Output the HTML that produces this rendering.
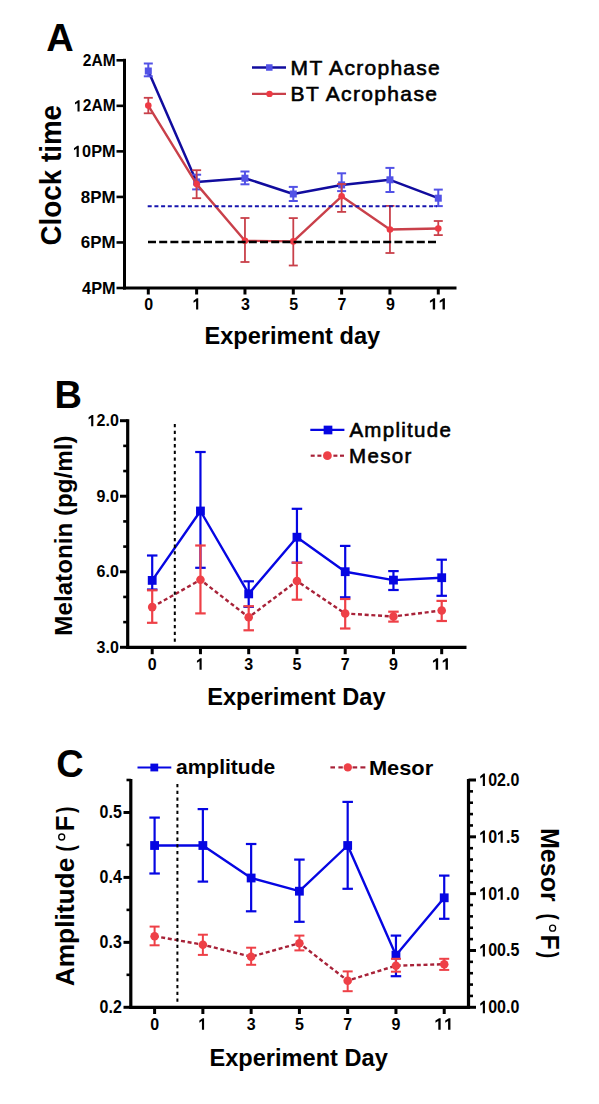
<!DOCTYPE html>
<html><head><meta charset="utf-8"><style>
html,body{margin:0;padding:0;background:#fff;}
svg{display:block;}
text{font-family:"Liberation Sans", sans-serif;fill:#000;}
</style></head><body>
<svg width="599" height="1104" viewBox="0 0 599 1104">
<rect width="599" height="1104" fill="#fff"/>
<text x="46.2" y="51.4" font-size="38" font-weight="bold" text-anchor="start">A</text>
<line x1="124.5" y1="58.8" x2="124.5" y2="289.5" stroke="#000" stroke-width="3" stroke-linecap="butt"/>
<line x1="116.5" y1="60.3" x2="124.5" y2="60.3" stroke="#000" stroke-width="2.6" stroke-linecap="butt"/>
<text transform="translate(115.60,65.90) scale(0.955,1.0)" font-size="16.3" font-weight="bold" text-anchor="end">2AM</text>
<line x1="116.5" y1="105.84" x2="124.5" y2="105.84" stroke="#000" stroke-width="2.6" stroke-linecap="butt"/>
<g transform="translate(115.60,111.44) scale(0.955,1.0)">
<text font-size="16.3" font-weight="bold" text-anchor="end" xml:space="preserve"> 2AM</text>
<path transform="translate(-43.480,0) scale(0.00796,-0.00796)" d="M725,0 L450,0 L450,1050 L120,860 L120,1110 L540,1409 L725,1409 Z"/>
</g>
<line x1="116.5" y1="151.38" x2="124.5" y2="151.38" stroke="#000" stroke-width="2.6" stroke-linecap="butt"/>
<g transform="translate(115.60,156.98) scale(1.0,1.0)">
<text font-size="16.3" font-weight="bold" text-anchor="end" xml:space="preserve"> 0PM</text>
<path transform="translate(-42.581,0) scale(0.00796,-0.00796)" d="M725,0 L450,0 L450,1050 L120,860 L120,1110 L540,1409 L725,1409 Z"/>
</g>
<line x1="116.5" y1="196.92000000000002" x2="124.5" y2="196.92000000000002" stroke="#000" stroke-width="2.6" stroke-linecap="butt"/>
<text transform="translate(115.60,202.52) scale(1.04,1.0)" font-size="16.3" font-weight="bold" text-anchor="end">8PM</text>
<line x1="116.5" y1="242.45999999999998" x2="124.5" y2="242.45999999999998" stroke="#000" stroke-width="2.6" stroke-linecap="butt"/>
<text transform="translate(115.60,248.06) scale(1.04,1.0)" font-size="16.3" font-weight="bold" text-anchor="end">6PM</text>
<line x1="116.5" y1="288.0" x2="124.5" y2="288.0" stroke="#000" stroke-width="2.6" stroke-linecap="butt"/>
<text transform="translate(115.60,293.60) scale(1.0,1.0)" font-size="16.3" font-weight="bold" text-anchor="end">4PM</text>
<line x1="123.0" y1="288" x2="456.5" y2="288" stroke="#000" stroke-width="3.2" stroke-linecap="butt"/>
<line x1="148.3" y1="288" x2="148.3" y2="294.5" stroke="#000" stroke-width="3" stroke-linecap="butt"/>
<text transform="translate(148.70,309.60) scale(1.0,1.03)" font-size="16" font-weight="bold" text-anchor="middle">0</text>
<line x1="196.63" y1="288" x2="196.63" y2="294.5" stroke="#000" stroke-width="3" stroke-linecap="butt"/>
<g transform="translate(197.03,309.60) scale(1.0,1.03)">
<text font-size="16" font-weight="bold" text-anchor="middle" xml:space="preserve"> </text>
<path transform="translate(-4.449,0) scale(0.00781,-0.00781)" d="M725,0 L450,0 L450,1050 L120,860 L120,1110 L540,1409 L725,1409 Z"/>
</g>
<line x1="244.96" y1="288" x2="244.96" y2="294.5" stroke="#000" stroke-width="3" stroke-linecap="butt"/>
<text transform="translate(245.36,309.60) scale(1.0,1.03)" font-size="16" font-weight="bold" text-anchor="middle">3</text>
<line x1="293.29" y1="288" x2="293.29" y2="294.5" stroke="#000" stroke-width="3" stroke-linecap="butt"/>
<text transform="translate(293.69,309.60) scale(1.0,1.03)" font-size="16" font-weight="bold" text-anchor="middle">5</text>
<line x1="341.62" y1="288" x2="341.62" y2="294.5" stroke="#000" stroke-width="3" stroke-linecap="butt"/>
<text transform="translate(342.02,309.60) scale(1.0,1.03)" font-size="16" font-weight="bold" text-anchor="middle">7</text>
<line x1="389.95" y1="288" x2="389.95" y2="294.5" stroke="#000" stroke-width="3" stroke-linecap="butt"/>
<text transform="translate(390.35,309.60) scale(1.0,1.03)" font-size="16" font-weight="bold" text-anchor="middle">9</text>
<line x1="438.28000000000003" y1="288" x2="438.28000000000003" y2="294.5" stroke="#000" stroke-width="3" stroke-linecap="butt"/>
<g transform="translate(438.68,309.60) scale(1.1,1.03)">
<text font-size="16" font-weight="bold" text-anchor="middle" xml:space="preserve">  </text>
<path transform="translate(-8.898,0) scale(0.00781,-0.00781)" d="M725,0 L450,0 L450,1050 L120,860 L120,1110 L540,1409 L725,1409 Z"/>
<path transform="translate(0.000,0) scale(0.00781,-0.00781)" d="M725,0 L450,0 L450,1050 L120,860 L120,1110 L540,1409 L725,1409 Z"/>
</g>
<text x="292.3" y="344.4" font-size="23.6" font-weight="bold" text-anchor="middle">Experiment day</text>
<text transform="translate(60.5,175.2) rotate(-90)" font-size="29" font-weight="bold" text-anchor="middle" textLength="140.5" lengthAdjust="spacingAndGlyphs">Clock time</text>
<polyline points="148.3,71.0 196.63,181.9 244.96,178.2 293.29,194 341.62,184.9 389.95,179.8 438.28000000000003,198.2" fill="none" stroke="#110c9e" stroke-width="2.5" stroke-linejoin="round"/>
<line x1="148.3" y1="63.5" x2="148.3" y2="76.3" stroke="#5252e6" stroke-width="2" stroke-linecap="butt"/>
<line x1="143.8" y1="63.5" x2="152.8" y2="63.5" stroke="#5252e6" stroke-width="2" stroke-linecap="butt"/>
<line x1="143.8" y1="76.3" x2="152.8" y2="76.3" stroke="#5252e6" stroke-width="2" stroke-linecap="butt"/>
<rect x="144.8" y="67.5" width="7" height="7" fill="#5252e6"/>
<line x1="196.63" y1="174.7" x2="196.63" y2="189.4" stroke="#5252e6" stroke-width="2" stroke-linecap="butt"/>
<line x1="192.13" y1="174.7" x2="201.13" y2="174.7" stroke="#5252e6" stroke-width="2" stroke-linecap="butt"/>
<line x1="192.13" y1="189.4" x2="201.13" y2="189.4" stroke="#5252e6" stroke-width="2" stroke-linecap="butt"/>
<rect x="193.13" y="178.4" width="7" height="7" fill="#5252e6"/>
<line x1="244.96" y1="171.5" x2="244.96" y2="184.3" stroke="#5252e6" stroke-width="2" stroke-linecap="butt"/>
<line x1="240.46" y1="171.5" x2="249.46" y2="171.5" stroke="#5252e6" stroke-width="2" stroke-linecap="butt"/>
<line x1="240.46" y1="184.3" x2="249.46" y2="184.3" stroke="#5252e6" stroke-width="2" stroke-linecap="butt"/>
<rect x="241.46" y="174.7" width="7" height="7" fill="#5252e6"/>
<line x1="293.29" y1="186.9" x2="293.29" y2="201" stroke="#5252e6" stroke-width="2" stroke-linecap="butt"/>
<line x1="288.79" y1="186.9" x2="297.79" y2="186.9" stroke="#5252e6" stroke-width="2" stroke-linecap="butt"/>
<line x1="288.79" y1="201" x2="297.79" y2="201" stroke="#5252e6" stroke-width="2" stroke-linecap="butt"/>
<rect x="289.79" y="190.5" width="7" height="7" fill="#5252e6"/>
<line x1="341.62" y1="173.3" x2="341.62" y2="191.1" stroke="#5252e6" stroke-width="2" stroke-linecap="butt"/>
<line x1="337.12" y1="173.3" x2="346.12" y2="173.3" stroke="#5252e6" stroke-width="2" stroke-linecap="butt"/>
<line x1="337.12" y1="191.1" x2="346.12" y2="191.1" stroke="#5252e6" stroke-width="2" stroke-linecap="butt"/>
<rect x="338.12" y="181.4" width="7" height="7" fill="#5252e6"/>
<line x1="389.95" y1="167.9" x2="389.95" y2="192" stroke="#5252e6" stroke-width="2" stroke-linecap="butt"/>
<line x1="385.45" y1="167.9" x2="394.45" y2="167.9" stroke="#5252e6" stroke-width="2" stroke-linecap="butt"/>
<line x1="385.45" y1="192" x2="394.45" y2="192" stroke="#5252e6" stroke-width="2" stroke-linecap="butt"/>
<rect x="386.45" y="176.3" width="7" height="7" fill="#5252e6"/>
<line x1="438.28000000000003" y1="189.6" x2="438.28000000000003" y2="206.1" stroke="#5252e6" stroke-width="2" stroke-linecap="butt"/>
<line x1="433.78000000000003" y1="189.6" x2="442.78000000000003" y2="189.6" stroke="#5252e6" stroke-width="2" stroke-linecap="butt"/>
<line x1="433.78000000000003" y1="206.1" x2="442.78000000000003" y2="206.1" stroke="#5252e6" stroke-width="2" stroke-linecap="butt"/>
<rect x="434.78000000000003" y="194.7" width="7" height="7" fill="#5252e6"/>
<polyline points="148.3,105.6 196.63,184.1 244.96,240.7 293.29,241.4 341.62,196.3 389.95,229.5 438.28000000000003,228.5" fill="none" stroke="#c9404a" stroke-width="2.4" stroke-linejoin="round"/>
<line x1="148.3" y1="97.8" x2="148.3" y2="113.3" stroke="#c9404a" stroke-width="1.8" stroke-linecap="butt"/>
<line x1="143.8" y1="97.8" x2="152.8" y2="97.8" stroke="#c9404a" stroke-width="1.8" stroke-linecap="butt"/>
<line x1="143.8" y1="113.3" x2="152.8" y2="113.3" stroke="#c9404a" stroke-width="1.8" stroke-linecap="butt"/>
<circle cx="148.3" cy="105.6" r="3.3" fill="#ee3a44"/>
<line x1="196.63" y1="170.2" x2="196.63" y2="198.2" stroke="#c9404a" stroke-width="1.8" stroke-linecap="butt"/>
<line x1="192.13" y1="170.2" x2="201.13" y2="170.2" stroke="#c9404a" stroke-width="1.8" stroke-linecap="butt"/>
<line x1="192.13" y1="198.2" x2="201.13" y2="198.2" stroke="#c9404a" stroke-width="1.8" stroke-linecap="butt"/>
<circle cx="196.63" cy="184.1" r="3.3" fill="#ee3a44"/>
<line x1="244.96" y1="218" x2="244.96" y2="262" stroke="#c9404a" stroke-width="1.8" stroke-linecap="butt"/>
<line x1="240.46" y1="218" x2="249.46" y2="218" stroke="#c9404a" stroke-width="1.8" stroke-linecap="butt"/>
<line x1="240.46" y1="262" x2="249.46" y2="262" stroke="#c9404a" stroke-width="1.8" stroke-linecap="butt"/>
<circle cx="244.96" cy="240.7" r="3.3" fill="#ee3a44"/>
<line x1="293.29" y1="218.1" x2="293.29" y2="265.5" stroke="#c9404a" stroke-width="1.8" stroke-linecap="butt"/>
<line x1="288.79" y1="218.1" x2="297.79" y2="218.1" stroke="#c9404a" stroke-width="1.8" stroke-linecap="butt"/>
<line x1="288.79" y1="265.5" x2="297.79" y2="265.5" stroke="#c9404a" stroke-width="1.8" stroke-linecap="butt"/>
<circle cx="293.29" cy="241.4" r="3.3" fill="#ee3a44"/>
<line x1="341.62" y1="184" x2="341.62" y2="211.9" stroke="#c9404a" stroke-width="1.8" stroke-linecap="butt"/>
<line x1="337.12" y1="184" x2="346.12" y2="184" stroke="#c9404a" stroke-width="1.8" stroke-linecap="butt"/>
<line x1="337.12" y1="211.9" x2="346.12" y2="211.9" stroke="#c9404a" stroke-width="1.8" stroke-linecap="butt"/>
<circle cx="341.62" cy="196.3" r="3.3" fill="#ee3a44"/>
<line x1="389.95" y1="205.9" x2="389.95" y2="253" stroke="#c9404a" stroke-width="1.8" stroke-linecap="butt"/>
<line x1="385.45" y1="205.9" x2="394.45" y2="205.9" stroke="#c9404a" stroke-width="1.8" stroke-linecap="butt"/>
<line x1="385.45" y1="253" x2="394.45" y2="253" stroke="#c9404a" stroke-width="1.8" stroke-linecap="butt"/>
<circle cx="389.95" cy="229.5" r="3.3" fill="#ee3a44"/>
<line x1="438.28000000000003" y1="221" x2="438.28000000000003" y2="235.1" stroke="#c9404a" stroke-width="1.8" stroke-linecap="butt"/>
<line x1="433.78000000000003" y1="221" x2="442.78000000000003" y2="221" stroke="#c9404a" stroke-width="1.8" stroke-linecap="butt"/>
<line x1="433.78000000000003" y1="235.1" x2="442.78000000000003" y2="235.1" stroke="#c9404a" stroke-width="1.8" stroke-linecap="butt"/>
<circle cx="438.28000000000003" cy="228.5" r="3.3" fill="#ee3a44"/>
<line x1="147.7" y1="206.3" x2="437" y2="206.3" stroke="#1614ae" stroke-width="2" stroke-linecap="butt" stroke-dasharray="4 2.7"/>
<line x1="148" y1="242" x2="437.6" y2="242" stroke="#000" stroke-width="2.5" stroke-linecap="butt" stroke-dasharray="8 3.2"/>
<line x1="252" y1="67.5" x2="286" y2="67.5" stroke="#110c9e" stroke-width="2.3" stroke-linecap="butt"/>
<rect x="266.05" y="64.25" width="6.5" height="6.5" fill="#5252e6"/>
<text x="290.6" y="75.2" font-size="21" font-weight="normal" stroke="#000" stroke-width="0.6" textLength="149.2" lengthAdjust="spacing">MT Acrophase</text>
<line x1="252" y1="93.9" x2="286" y2="93.9" stroke="#c9404a" stroke-width="2.3" stroke-linecap="butt"/>
<circle cx="269.5" cy="93.9" r="3.2" fill="#ee3a44"/>
<text x="290.6" y="100.8" font-size="21" font-weight="normal" stroke="#000" stroke-width="0.6" textLength="146.3" lengthAdjust="spacing">BT Acrophase</text>
<text x="54.6" y="408.3" font-size="38" font-weight="bold" text-anchor="start">B</text>
<line x1="127.7" y1="419.2" x2="127.7" y2="648.8" stroke="#000" stroke-width="3.2" stroke-linecap="butt"/>
<line x1="120" y1="647.3" x2="127.7" y2="647.3" stroke="#000" stroke-width="3" stroke-linecap="butt"/>
<text transform="translate(118.80,652.90) scale(1.0,1.03)" font-size="16" font-weight="bold" text-anchor="end">3.0</text>
<line x1="123.2" y1="622.1222222222221" x2="127.7" y2="622.1222222222221" stroke="#000" stroke-width="2.6" stroke-linecap="butt"/>
<line x1="123.2" y1="596.9444444444445" x2="127.7" y2="596.9444444444445" stroke="#000" stroke-width="2.6" stroke-linecap="butt"/>
<line x1="120" y1="571.7666666666667" x2="127.7" y2="571.7666666666667" stroke="#000" stroke-width="3" stroke-linecap="butt"/>
<text transform="translate(118.80,577.37) scale(1.0,1.03)" font-size="16" font-weight="bold" text-anchor="end">6.0</text>
<line x1="123.2" y1="546.5888888888888" x2="127.7" y2="546.5888888888888" stroke="#000" stroke-width="2.6" stroke-linecap="butt"/>
<line x1="123.2" y1="521.411111111111" x2="127.7" y2="521.411111111111" stroke="#000" stroke-width="2.6" stroke-linecap="butt"/>
<line x1="120" y1="496.23333333333335" x2="127.7" y2="496.23333333333335" stroke="#000" stroke-width="3" stroke-linecap="butt"/>
<text transform="translate(118.80,501.83) scale(1.0,1.03)" font-size="16" font-weight="bold" text-anchor="end">9.0</text>
<line x1="123.2" y1="471.05555555555554" x2="127.7" y2="471.05555555555554" stroke="#000" stroke-width="2.6" stroke-linecap="butt"/>
<line x1="123.2" y1="445.87777777777774" x2="127.7" y2="445.87777777777774" stroke="#000" stroke-width="2.6" stroke-linecap="butt"/>
<line x1="120" y1="420.7" x2="127.7" y2="420.7" stroke="#000" stroke-width="3" stroke-linecap="butt"/>
<g transform="translate(118.80,426.30) scale(1.0,1.03)">
<text font-size="16" font-weight="bold" text-anchor="end" xml:space="preserve"> 2.0</text>
<path transform="translate(-31.141,0) scale(0.00781,-0.00781)" d="M725,0 L450,0 L450,1050 L120,860 L120,1110 L540,1409 L725,1409 Z"/>
</g>
<line x1="126.2" y1="647.3" x2="466.5" y2="647.3" stroke="#000" stroke-width="3.2" stroke-linecap="butt"/>
<line x1="152.2" y1="647.3" x2="152.2" y2="654.2" stroke="#000" stroke-width="3" stroke-linecap="butt"/>
<text transform="translate(152.20,669.70) scale(1.0,1.03)" font-size="16" font-weight="bold" text-anchor="middle">0</text>
<line x1="200.45" y1="647.3" x2="200.45" y2="654.2" stroke="#000" stroke-width="3" stroke-linecap="butt"/>
<g transform="translate(200.45,669.70) scale(1.0,1.03)">
<text font-size="16" font-weight="bold" text-anchor="middle" xml:space="preserve"> </text>
<path transform="translate(-4.449,0) scale(0.00781,-0.00781)" d="M725,0 L450,0 L450,1050 L120,860 L120,1110 L540,1409 L725,1409 Z"/>
</g>
<line x1="248.7" y1="647.3" x2="248.7" y2="654.2" stroke="#000" stroke-width="3" stroke-linecap="butt"/>
<text transform="translate(248.70,669.70) scale(1.0,1.03)" font-size="16" font-weight="bold" text-anchor="middle">3</text>
<line x1="296.95" y1="647.3" x2="296.95" y2="654.2" stroke="#000" stroke-width="3" stroke-linecap="butt"/>
<text transform="translate(296.95,669.70) scale(1.0,1.03)" font-size="16" font-weight="bold" text-anchor="middle">5</text>
<line x1="345.2" y1="647.3" x2="345.2" y2="654.2" stroke="#000" stroke-width="3" stroke-linecap="butt"/>
<text transform="translate(345.20,669.70) scale(1.0,1.03)" font-size="16" font-weight="bold" text-anchor="middle">7</text>
<line x1="393.45" y1="647.3" x2="393.45" y2="654.2" stroke="#000" stroke-width="3" stroke-linecap="butt"/>
<text transform="translate(393.45,669.70) scale(1.0,1.03)" font-size="16" font-weight="bold" text-anchor="middle">9</text>
<line x1="441.7" y1="647.3" x2="441.7" y2="654.2" stroke="#000" stroke-width="3" stroke-linecap="butt"/>
<g transform="translate(441.70,669.70) scale(1.1,1.03)">
<text font-size="16" font-weight="bold" text-anchor="middle" xml:space="preserve">  </text>
<path transform="translate(-8.898,0) scale(0.00781,-0.00781)" d="M725,0 L450,0 L450,1050 L120,860 L120,1110 L540,1409 L725,1409 Z"/>
<path transform="translate(0.000,0) scale(0.00781,-0.00781)" d="M725,0 L450,0 L450,1050 L120,860 L120,1110 L540,1409 L725,1409 Z"/>
</g>
<text x="296.4" y="705.1" font-size="23.6" font-weight="bold" text-anchor="middle">Experiment Day</text>
<text transform="translate(71.5,535.6) rotate(-90)" font-size="24.2" font-weight="bold" text-anchor="middle">Melatonin (pg/ml)</text>
<polyline points="152.2,580.4 200.45,511 248.7,593.9 296.95,537.2 345.2,571.7 393.45,580.1 441.7,577.7" fill="none" stroke="#0606e2" stroke-width="2.4" stroke-linejoin="round"/>
<line x1="152.2" y1="555.5" x2="152.2" y2="589.5" stroke="#0606e2" stroke-width="2.2" stroke-linecap="butt"/>
<line x1="146.95" y1="555.5" x2="157.45" y2="555.5" stroke="#0606e2" stroke-width="2.2" stroke-linecap="butt"/>
<line x1="146.95" y1="589.5" x2="157.45" y2="589.5" stroke="#0606e2" stroke-width="2.2" stroke-linecap="butt"/>
<rect x="147.79999999999998" y="576.0" width="8.8" height="8.8" fill="#0606e2"/>
<line x1="200.45" y1="452" x2="200.45" y2="567.8" stroke="#0606e2" stroke-width="2.2" stroke-linecap="butt"/>
<line x1="195.2" y1="452" x2="205.7" y2="452" stroke="#0606e2" stroke-width="2.2" stroke-linecap="butt"/>
<line x1="195.2" y1="567.8" x2="205.7" y2="567.8" stroke="#0606e2" stroke-width="2.2" stroke-linecap="butt"/>
<rect x="196.04999999999998" y="506.6" width="8.8" height="8.8" fill="#0606e2"/>
<line x1="248.7" y1="581.3" x2="248.7" y2="606.8" stroke="#0606e2" stroke-width="2.2" stroke-linecap="butt"/>
<line x1="243.45" y1="581.3" x2="253.95" y2="581.3" stroke="#0606e2" stroke-width="2.2" stroke-linecap="butt"/>
<line x1="243.45" y1="606.8" x2="253.95" y2="606.8" stroke="#0606e2" stroke-width="2.2" stroke-linecap="butt"/>
<rect x="244.29999999999998" y="589.5" width="8.8" height="8.8" fill="#0606e2"/>
<line x1="296.95" y1="508.8" x2="296.95" y2="562.7" stroke="#0606e2" stroke-width="2.2" stroke-linecap="butt"/>
<line x1="291.7" y1="508.8" x2="302.2" y2="508.8" stroke="#0606e2" stroke-width="2.2" stroke-linecap="butt"/>
<line x1="291.7" y1="562.7" x2="302.2" y2="562.7" stroke="#0606e2" stroke-width="2.2" stroke-linecap="butt"/>
<rect x="292.55" y="532.8000000000001" width="8.8" height="8.8" fill="#0606e2"/>
<line x1="345.2" y1="545.9" x2="345.2" y2="597.3" stroke="#0606e2" stroke-width="2.2" stroke-linecap="butt"/>
<line x1="339.95" y1="545.9" x2="350.45" y2="545.9" stroke="#0606e2" stroke-width="2.2" stroke-linecap="butt"/>
<line x1="339.95" y1="597.3" x2="350.45" y2="597.3" stroke="#0606e2" stroke-width="2.2" stroke-linecap="butt"/>
<rect x="340.8" y="567.3000000000001" width="8.8" height="8.8" fill="#0606e2"/>
<line x1="393.45" y1="571.1" x2="393.45" y2="590" stroke="#0606e2" stroke-width="2.2" stroke-linecap="butt"/>
<line x1="388.2" y1="571.1" x2="398.7" y2="571.1" stroke="#0606e2" stroke-width="2.2" stroke-linecap="butt"/>
<line x1="388.2" y1="590" x2="398.7" y2="590" stroke="#0606e2" stroke-width="2.2" stroke-linecap="butt"/>
<rect x="389.05" y="575.7" width="8.8" height="8.8" fill="#0606e2"/>
<line x1="441.7" y1="559.7" x2="441.7" y2="595.8" stroke="#0606e2" stroke-width="2.2" stroke-linecap="butt"/>
<line x1="436.45" y1="559.7" x2="446.95" y2="559.7" stroke="#0606e2" stroke-width="2.2" stroke-linecap="butt"/>
<line x1="436.45" y1="595.8" x2="446.95" y2="595.8" stroke="#0606e2" stroke-width="2.2" stroke-linecap="butt"/>
<rect x="437.3" y="573.3000000000001" width="8.8" height="8.8" fill="#0606e2"/>
<polyline points="152.2,607.1 200.45,579.8 248.7,617.3 296.95,581 345.2,613.5 393.45,616.5 441.7,610.5" fill="none" stroke="#a82238" stroke-width="2.4" stroke-linejoin="round" stroke-dasharray="4 2.7"/>
<line x1="152.2" y1="590.3" x2="152.2" y2="622.8" stroke="#ee4047" stroke-width="2.2" stroke-linecap="butt"/>
<line x1="146.95" y1="590.3" x2="157.45" y2="590.3" stroke="#ee4047" stroke-width="2.2" stroke-linecap="butt"/>
<line x1="146.95" y1="622.8" x2="157.45" y2="622.8" stroke="#ee4047" stroke-width="2.2" stroke-linecap="butt"/>
<circle cx="152.2" cy="607.1" r="4.3" fill="#ee4047"/>
<line x1="200.45" y1="545.5" x2="200.45" y2="613.4" stroke="#ee4047" stroke-width="2.2" stroke-linecap="butt"/>
<line x1="195.2" y1="545.5" x2="205.7" y2="545.5" stroke="#ee4047" stroke-width="2.2" stroke-linecap="butt"/>
<line x1="195.2" y1="613.4" x2="205.7" y2="613.4" stroke="#ee4047" stroke-width="2.2" stroke-linecap="butt"/>
<circle cx="200.45" cy="579.8" r="4.3" fill="#ee4047"/>
<line x1="248.7" y1="606.2" x2="248.7" y2="630.3" stroke="#ee4047" stroke-width="2.2" stroke-linecap="butt"/>
<line x1="243.45" y1="606.2" x2="253.95" y2="606.2" stroke="#ee4047" stroke-width="2.2" stroke-linecap="butt"/>
<line x1="243.45" y1="630.3" x2="253.95" y2="630.3" stroke="#ee4047" stroke-width="2.2" stroke-linecap="butt"/>
<circle cx="248.7" cy="617.3" r="4.3" fill="#ee4047"/>
<line x1="296.95" y1="562.7" x2="296.95" y2="599.7" stroke="#ee4047" stroke-width="2.2" stroke-linecap="butt"/>
<line x1="291.7" y1="562.7" x2="302.2" y2="562.7" stroke="#ee4047" stroke-width="2.2" stroke-linecap="butt"/>
<line x1="291.7" y1="599.7" x2="302.2" y2="599.7" stroke="#ee4047" stroke-width="2.2" stroke-linecap="butt"/>
<circle cx="296.95" cy="581" r="4.3" fill="#ee4047"/>
<line x1="345.2" y1="599" x2="345.2" y2="628.5" stroke="#ee4047" stroke-width="2.2" stroke-linecap="butt"/>
<line x1="339.95" y1="599" x2="350.45" y2="599" stroke="#ee4047" stroke-width="2.2" stroke-linecap="butt"/>
<line x1="339.95" y1="628.5" x2="350.45" y2="628.5" stroke="#ee4047" stroke-width="2.2" stroke-linecap="butt"/>
<circle cx="345.2" cy="613.5" r="4.3" fill="#ee4047"/>
<line x1="393.45" y1="611.7" x2="393.45" y2="621.6" stroke="#ee4047" stroke-width="2.2" stroke-linecap="butt"/>
<line x1="388.2" y1="611.7" x2="398.7" y2="611.7" stroke="#ee4047" stroke-width="2.2" stroke-linecap="butt"/>
<line x1="388.2" y1="621.6" x2="398.7" y2="621.6" stroke="#ee4047" stroke-width="2.2" stroke-linecap="butt"/>
<circle cx="393.45" cy="616.5" r="4.3" fill="#ee4047"/>
<line x1="441.7" y1="600.9" x2="441.7" y2="621" stroke="#ee4047" stroke-width="2.2" stroke-linecap="butt"/>
<line x1="436.45" y1="600.9" x2="446.95" y2="600.9" stroke="#ee4047" stroke-width="2.2" stroke-linecap="butt"/>
<line x1="436.45" y1="621" x2="446.95" y2="621" stroke="#ee4047" stroke-width="2.2" stroke-linecap="butt"/>
<circle cx="441.7" cy="610.5" r="4.3" fill="#ee4047"/>
<line x1="174.8" y1="424" x2="174.8" y2="645" stroke="#000" stroke-width="2" stroke-linecap="butt" stroke-dasharray="3.3 3.4"/>
<line x1="310.3" y1="429.8" x2="344.4" y2="429.8" stroke="#0606e2" stroke-width="2.2" stroke-linecap="butt"/>
<rect x="323.65" y="425.65" width="8.7" height="8.7" fill="#0606e2"/>
<text x="349.4" y="437" font-size="20.5" font-weight="normal" stroke="#000" stroke-width="0.6" textLength="101.4" lengthAdjust="spacing">Amplitude</text>
<line x1="310.7" y1="455.7" x2="314.7" y2="455.7" stroke="#a82238" stroke-width="2.2" stroke-linecap="butt"/>
<line x1="317.4" y1="455.7" x2="321.4" y2="455.7" stroke="#a82238" stroke-width="2.2" stroke-linecap="butt"/>
<line x1="333.4" y1="455.7" x2="337.4" y2="455.7" stroke="#a82238" stroke-width="2.2" stroke-linecap="butt"/>
<line x1="340" y1="455.7" x2="344" y2="455.7" stroke="#a82238" stroke-width="2.2" stroke-linecap="butt"/>
<circle cx="327.4" cy="455.7" r="4.4" fill="#ee4047"/>
<text x="349.0" y="463.1" font-size="20.5" font-weight="normal" stroke="#000" stroke-width="0.6" textLength="62.3" lengthAdjust="spacing">Mesor</text>
<text x="56.2" y="777.4" font-size="38" font-weight="bold" text-anchor="start">C</text>
<line x1="130.8" y1="779" x2="130.8" y2="1008.8" stroke="#000" stroke-width="3.2" stroke-linecap="butt"/>
<line x1="123.5" y1="1007.3" x2="130.8" y2="1007.3" stroke="#000" stroke-width="3" stroke-linecap="butt"/>
<text transform="translate(121.80,1013.10) scale(1.0,1.13)" font-size="16" font-weight="bold" text-anchor="end">0.2</text>
<line x1="126.5" y1="974.8285714285714" x2="130.8" y2="974.8285714285714" stroke="#000" stroke-width="2.6" stroke-linecap="butt"/>
<line x1="123.5" y1="942.3571428571428" x2="130.8" y2="942.3571428571428" stroke="#000" stroke-width="3" stroke-linecap="butt"/>
<text transform="translate(121.80,948.16) scale(1.0,1.13)" font-size="16" font-weight="bold" text-anchor="end">0.3</text>
<line x1="126.5" y1="909.8857142857142" x2="130.8" y2="909.8857142857142" stroke="#000" stroke-width="2.6" stroke-linecap="butt"/>
<line x1="123.5" y1="877.4142857142857" x2="130.8" y2="877.4142857142857" stroke="#000" stroke-width="3" stroke-linecap="butt"/>
<text transform="translate(121.80,883.21) scale(1.0,1.13)" font-size="16" font-weight="bold" text-anchor="end">0.4</text>
<line x1="126.5" y1="844.9428571428571" x2="130.8" y2="844.9428571428571" stroke="#000" stroke-width="2.6" stroke-linecap="butt"/>
<line x1="123.5" y1="812.4714285714285" x2="130.8" y2="812.4714285714285" stroke="#000" stroke-width="3" stroke-linecap="butt"/>
<text transform="translate(121.80,818.27) scale(1.0,1.13)" font-size="16" font-weight="bold" text-anchor="end">0.5</text>
<line x1="126.5" y1="780.0" x2="130.8" y2="780.0" stroke="#000" stroke-width="2.6" stroke-linecap="butt"/>
<line x1="468.5" y1="779" x2="468.5" y2="1008.8" stroke="#000" stroke-width="3.2" stroke-linecap="butt"/>
<line x1="468.5" y1="1007.3" x2="476" y2="1007.3" stroke="#000" stroke-width="3" stroke-linecap="butt"/>
<g transform="translate(479.30,1013.30) scale(1.0,1.13)">
<text font-size="16" font-weight="bold" text-anchor="start" xml:space="preserve"> 00.0</text>
<path transform="translate(0.000,0) scale(0.00781,-0.00781)" d="M725,0 L450,0 L450,1050 L120,860 L120,1110 L540,1409 L725,1409 Z"/>
</g>
<line x1="468.5" y1="995.935" x2="473" y2="995.935" stroke="#000" stroke-width="2.6" stroke-linecap="butt"/>
<line x1="468.5" y1="984.5699999999999" x2="473" y2="984.5699999999999" stroke="#000" stroke-width="2.6" stroke-linecap="butt"/>
<line x1="468.5" y1="973.2049999999999" x2="473" y2="973.2049999999999" stroke="#000" stroke-width="2.6" stroke-linecap="butt"/>
<line x1="468.5" y1="961.8399999999999" x2="473" y2="961.8399999999999" stroke="#000" stroke-width="2.6" stroke-linecap="butt"/>
<line x1="468.5" y1="950.4749999999999" x2="476" y2="950.4749999999999" stroke="#000" stroke-width="3" stroke-linecap="butt"/>
<g transform="translate(479.30,956.47) scale(1.0,1.13)">
<text font-size="16" font-weight="bold" text-anchor="start" xml:space="preserve"> 00.5</text>
<path transform="translate(0.000,0) scale(0.00781,-0.00781)" d="M725,0 L450,0 L450,1050 L120,860 L120,1110 L540,1409 L725,1409 Z"/>
</g>
<line x1="468.5" y1="939.1099999999999" x2="473" y2="939.1099999999999" stroke="#000" stroke-width="2.6" stroke-linecap="butt"/>
<line x1="468.5" y1="927.7449999999999" x2="473" y2="927.7449999999999" stroke="#000" stroke-width="2.6" stroke-linecap="butt"/>
<line x1="468.5" y1="916.38" x2="473" y2="916.38" stroke="#000" stroke-width="2.6" stroke-linecap="butt"/>
<line x1="468.5" y1="905.015" x2="473" y2="905.015" stroke="#000" stroke-width="2.6" stroke-linecap="butt"/>
<line x1="468.5" y1="893.65" x2="476" y2="893.65" stroke="#000" stroke-width="3" stroke-linecap="butt"/>
<g transform="translate(479.30,899.65) scale(1.0,1.13)">
<text font-size="16" font-weight="bold" text-anchor="start" xml:space="preserve"> 0 .0</text>
<path transform="translate(0.000,0) scale(0.00781,-0.00781)" d="M725,0 L450,0 L450,1050 L120,860 L120,1110 L540,1409 L725,1409 Z"/>
<path transform="translate(17.797,0) scale(0.00781,-0.00781)" d="M725,0 L450,0 L450,1050 L120,860 L120,1110 L540,1409 L725,1409 Z"/>
</g>
<line x1="468.5" y1="882.285" x2="473" y2="882.285" stroke="#000" stroke-width="2.6" stroke-linecap="butt"/>
<line x1="468.5" y1="870.92" x2="473" y2="870.92" stroke="#000" stroke-width="2.6" stroke-linecap="butt"/>
<line x1="468.5" y1="859.555" x2="473" y2="859.555" stroke="#000" stroke-width="2.6" stroke-linecap="butt"/>
<line x1="468.5" y1="848.1899999999999" x2="473" y2="848.1899999999999" stroke="#000" stroke-width="2.6" stroke-linecap="butt"/>
<line x1="468.5" y1="836.8249999999999" x2="476" y2="836.8249999999999" stroke="#000" stroke-width="3" stroke-linecap="butt"/>
<g transform="translate(479.30,842.82) scale(1.0,1.13)">
<text font-size="16" font-weight="bold" text-anchor="start" xml:space="preserve"> 0 .5</text>
<path transform="translate(0.000,0) scale(0.00781,-0.00781)" d="M725,0 L450,0 L450,1050 L120,860 L120,1110 L540,1409 L725,1409 Z"/>
<path transform="translate(17.797,0) scale(0.00781,-0.00781)" d="M725,0 L450,0 L450,1050 L120,860 L120,1110 L540,1409 L725,1409 Z"/>
</g>
<line x1="468.5" y1="825.4599999999999" x2="473" y2="825.4599999999999" stroke="#000" stroke-width="2.6" stroke-linecap="butt"/>
<line x1="468.5" y1="814.0949999999999" x2="473" y2="814.0949999999999" stroke="#000" stroke-width="2.6" stroke-linecap="butt"/>
<line x1="468.5" y1="802.73" x2="473" y2="802.73" stroke="#000" stroke-width="2.6" stroke-linecap="butt"/>
<line x1="468.5" y1="791.365" x2="473" y2="791.365" stroke="#000" stroke-width="2.6" stroke-linecap="butt"/>
<line x1="468.5" y1="780.0" x2="476" y2="780.0" stroke="#000" stroke-width="3" stroke-linecap="butt"/>
<g transform="translate(479.30,786.00) scale(1.0,1.13)">
<text font-size="16" font-weight="bold" text-anchor="start" xml:space="preserve"> 02.0</text>
<path transform="translate(0.000,0) scale(0.00781,-0.00781)" d="M725,0 L450,0 L450,1050 L120,860 L120,1110 L540,1409 L725,1409 Z"/>
</g>
<line x1="129.3" y1="1007.3" x2="470.0" y2="1007.3" stroke="#000" stroke-width="3.2" stroke-linecap="butt"/>
<line x1="154.6" y1="1007.3" x2="154.6" y2="1014" stroke="#000" stroke-width="3" stroke-linecap="butt"/>
<text transform="translate(154.60,1029.80) scale(1.0,1.06)" font-size="16" font-weight="bold" text-anchor="middle">0</text>
<line x1="202.87" y1="1007.3" x2="202.87" y2="1014" stroke="#000" stroke-width="3" stroke-linecap="butt"/>
<g transform="translate(202.87,1029.80) scale(1.0,1.06)">
<text font-size="16" font-weight="bold" text-anchor="middle" xml:space="preserve"> </text>
<path transform="translate(-4.449,0) scale(0.00781,-0.00781)" d="M725,0 L450,0 L450,1050 L120,860 L120,1110 L540,1409 L725,1409 Z"/>
</g>
<line x1="251.14" y1="1007.3" x2="251.14" y2="1014" stroke="#000" stroke-width="3" stroke-linecap="butt"/>
<text transform="translate(251.14,1029.80) scale(1.0,1.06)" font-size="16" font-weight="bold" text-anchor="middle">3</text>
<line x1="299.40999999999997" y1="1007.3" x2="299.40999999999997" y2="1014" stroke="#000" stroke-width="3" stroke-linecap="butt"/>
<text transform="translate(299.41,1029.80) scale(1.0,1.06)" font-size="16" font-weight="bold" text-anchor="middle">5</text>
<line x1="347.68" y1="1007.3" x2="347.68" y2="1014" stroke="#000" stroke-width="3" stroke-linecap="butt"/>
<text transform="translate(347.68,1029.80) scale(1.0,1.06)" font-size="16" font-weight="bold" text-anchor="middle">7</text>
<line x1="395.95000000000005" y1="1007.3" x2="395.95000000000005" y2="1014" stroke="#000" stroke-width="3" stroke-linecap="butt"/>
<text transform="translate(395.95,1029.80) scale(1.0,1.06)" font-size="16" font-weight="bold" text-anchor="middle">9</text>
<line x1="444.22" y1="1007.3" x2="444.22" y2="1014" stroke="#000" stroke-width="3" stroke-linecap="butt"/>
<g transform="translate(444.22,1029.80) scale(1.1,1.06)">
<text font-size="16" font-weight="bold" text-anchor="middle" xml:space="preserve">  </text>
<path transform="translate(-8.898,0) scale(0.00781,-0.00781)" d="M725,0 L450,0 L450,1050 L120,860 L120,1110 L540,1409 L725,1409 Z"/>
<path transform="translate(0.000,0) scale(0.00781,-0.00781)" d="M725,0 L450,0 L450,1050 L120,860 L120,1110 L540,1409 L725,1409 Z"/>
</g>
<text x="298.6" y="1065.6" font-size="23.6" font-weight="bold" text-anchor="middle">Experiment Day</text>
<text transform="translate(74,0) rotate(-90)" font-size="25.5" font-weight="bold" textLength="128.6" lengthAdjust="spacingAndGlyphs" x="-986.3">Amplitude</text>
<text transform="translate(74.2,851.5) rotate(-90) scale(0.75,0.95)" font-size="25.5" font-weight="bold">(</text>
<circle cx="61.7" cy="837" r="3.0" fill="none" stroke="#000" stroke-width="1.3"/>
<text transform="translate(74,0) rotate(-90)" font-size="25.5" font-weight="bold" x="-831.1999999999999">F</text>
<text transform="translate(74.2,813.0) rotate(-90) scale(0.75,0.95)" font-size="25.5" font-weight="bold">)</text>
<text transform="translate(540.6,0) rotate(90)" font-size="25" font-weight="bold" x="828">Mesor</text>
<text transform="translate(540.6,913.4) rotate(90) scale(0.75,0.95)" font-size="25.5" font-weight="bold">(</text>
<circle cx="552.6" cy="928.2" r="3.0" fill="none" stroke="#000" stroke-width="1.3"/>
<text transform="translate(540.6,0) rotate(90)" font-size="25" font-weight="bold" x="934.4">F</text>
<text transform="translate(540.6,951.8) rotate(90) scale(0.75,0.95)" font-size="25.5" font-weight="bold">)</text>
<polyline points="154.6,845.5 202.87,845.5 251.14,878 299.40999999999997,891.2 347.68,845.5 395.95000000000005,955.2 444.22,897.8" fill="none" stroke="#0606e2" stroke-width="2.4" stroke-linejoin="round"/>
<line x1="154.6" y1="817.6" x2="154.6" y2="873.5" stroke="#0606e2" stroke-width="2.2" stroke-linecap="butt"/>
<line x1="149.35" y1="817.6" x2="159.85" y2="817.6" stroke="#0606e2" stroke-width="2.2" stroke-linecap="butt"/>
<line x1="149.35" y1="873.5" x2="159.85" y2="873.5" stroke="#0606e2" stroke-width="2.2" stroke-linecap="butt"/>
<rect x="150.2" y="841.1" width="8.8" height="8.8" fill="#0606e2"/>
<line x1="202.87" y1="809.1" x2="202.87" y2="881.6" stroke="#0606e2" stroke-width="2.2" stroke-linecap="butt"/>
<line x1="197.62" y1="809.1" x2="208.12" y2="809.1" stroke="#0606e2" stroke-width="2.2" stroke-linecap="butt"/>
<line x1="197.62" y1="881.6" x2="208.12" y2="881.6" stroke="#0606e2" stroke-width="2.2" stroke-linecap="butt"/>
<rect x="198.47" y="841.1" width="8.8" height="8.8" fill="#0606e2"/>
<line x1="251.14" y1="844" x2="251.14" y2="911.3" stroke="#0606e2" stroke-width="2.2" stroke-linecap="butt"/>
<line x1="245.89" y1="844" x2="256.39" y2="844" stroke="#0606e2" stroke-width="2.2" stroke-linecap="butt"/>
<line x1="245.89" y1="911.3" x2="256.39" y2="911.3" stroke="#0606e2" stroke-width="2.2" stroke-linecap="butt"/>
<rect x="246.73999999999998" y="873.6" width="8.8" height="8.8" fill="#0606e2"/>
<line x1="299.40999999999997" y1="859.6" x2="299.40999999999997" y2="921.8" stroke="#0606e2" stroke-width="2.2" stroke-linecap="butt"/>
<line x1="294.15999999999997" y1="859.6" x2="304.65999999999997" y2="859.6" stroke="#0606e2" stroke-width="2.2" stroke-linecap="butt"/>
<line x1="294.15999999999997" y1="921.8" x2="304.65999999999997" y2="921.8" stroke="#0606e2" stroke-width="2.2" stroke-linecap="butt"/>
<rect x="295.01" y="886.8000000000001" width="8.8" height="8.8" fill="#0606e2"/>
<line x1="347.68" y1="801.9" x2="347.68" y2="888.8" stroke="#0606e2" stroke-width="2.2" stroke-linecap="butt"/>
<line x1="342.43" y1="801.9" x2="352.93" y2="801.9" stroke="#0606e2" stroke-width="2.2" stroke-linecap="butt"/>
<line x1="342.43" y1="888.8" x2="352.93" y2="888.8" stroke="#0606e2" stroke-width="2.2" stroke-linecap="butt"/>
<rect x="343.28000000000003" y="841.1" width="8.8" height="8.8" fill="#0606e2"/>
<line x1="395.95000000000005" y1="935.6" x2="395.95000000000005" y2="976.2" stroke="#0606e2" stroke-width="2.2" stroke-linecap="butt"/>
<line x1="390.70000000000005" y1="935.6" x2="401.20000000000005" y2="935.6" stroke="#0606e2" stroke-width="2.2" stroke-linecap="butt"/>
<line x1="390.70000000000005" y1="976.2" x2="401.20000000000005" y2="976.2" stroke="#0606e2" stroke-width="2.2" stroke-linecap="butt"/>
<rect x="391.55000000000007" y="950.8000000000001" width="8.8" height="8.8" fill="#0606e2"/>
<line x1="444.22" y1="875.6" x2="444.22" y2="918.8" stroke="#0606e2" stroke-width="2.2" stroke-linecap="butt"/>
<line x1="438.97" y1="875.6" x2="449.47" y2="875.6" stroke="#0606e2" stroke-width="2.2" stroke-linecap="butt"/>
<line x1="438.97" y1="918.8" x2="449.47" y2="918.8" stroke="#0606e2" stroke-width="2.2" stroke-linecap="butt"/>
<rect x="439.82000000000005" y="893.4" width="8.8" height="8.8" fill="#0606e2"/>
<polyline points="154.6,936.2 202.87,944.7 251.14,956.7 299.40999999999997,943.2 347.68,980.7 395.95000000000005,965.7 444.22,964.2" fill="none" stroke="#a82238" stroke-width="2.4" stroke-linejoin="round" stroke-dasharray="4 2.7"/>
<line x1="154.6" y1="926.6" x2="154.6" y2="945.3" stroke="#ee4047" stroke-width="2.0" stroke-linecap="butt"/>
<line x1="149.6" y1="926.6" x2="159.6" y2="926.6" stroke="#ee4047" stroke-width="2.0" stroke-linecap="butt"/>
<line x1="149.6" y1="945.3" x2="159.6" y2="945.3" stroke="#ee4047" stroke-width="2.0" stroke-linecap="butt"/>
<circle cx="154.6" cy="936.2" r="4.3" fill="#ee4047"/>
<line x1="202.87" y1="934.7" x2="202.87" y2="954.9" stroke="#ee4047" stroke-width="2.0" stroke-linecap="butt"/>
<line x1="197.87" y1="934.7" x2="207.87" y2="934.7" stroke="#ee4047" stroke-width="2.0" stroke-linecap="butt"/>
<line x1="197.87" y1="954.9" x2="207.87" y2="954.9" stroke="#ee4047" stroke-width="2.0" stroke-linecap="butt"/>
<circle cx="202.87" cy="944.7" r="4.3" fill="#ee4047"/>
<line x1="251.14" y1="947.7" x2="251.14" y2="964.8" stroke="#ee4047" stroke-width="2.0" stroke-linecap="butt"/>
<line x1="246.14" y1="947.7" x2="256.14" y2="947.7" stroke="#ee4047" stroke-width="2.0" stroke-linecap="butt"/>
<line x1="246.14" y1="964.8" x2="256.14" y2="964.8" stroke="#ee4047" stroke-width="2.0" stroke-linecap="butt"/>
<circle cx="251.14" cy="956.7" r="4.3" fill="#ee4047"/>
<line x1="299.40999999999997" y1="935.6" x2="299.40999999999997" y2="950.4" stroke="#ee4047" stroke-width="2.0" stroke-linecap="butt"/>
<line x1="294.40999999999997" y1="935.6" x2="304.40999999999997" y2="935.6" stroke="#ee4047" stroke-width="2.0" stroke-linecap="butt"/>
<line x1="294.40999999999997" y1="950.4" x2="304.40999999999997" y2="950.4" stroke="#ee4047" stroke-width="2.0" stroke-linecap="butt"/>
<circle cx="299.40999999999997" cy="943.2" r="4.3" fill="#ee4047"/>
<line x1="347.68" y1="971.4" x2="347.68" y2="991.2" stroke="#ee4047" stroke-width="2.0" stroke-linecap="butt"/>
<line x1="342.68" y1="971.4" x2="352.68" y2="971.4" stroke="#ee4047" stroke-width="2.0" stroke-linecap="butt"/>
<line x1="342.68" y1="991.2" x2="352.68" y2="991.2" stroke="#ee4047" stroke-width="2.0" stroke-linecap="butt"/>
<circle cx="347.68" cy="980.7" r="4.3" fill="#ee4047"/>
<line x1="395.95000000000005" y1="958.8" x2="395.95000000000005" y2="971.7" stroke="#ee4047" stroke-width="2.0" stroke-linecap="butt"/>
<line x1="390.95000000000005" y1="958.8" x2="400.95000000000005" y2="958.8" stroke="#ee4047" stroke-width="2.0" stroke-linecap="butt"/>
<line x1="390.95000000000005" y1="971.7" x2="400.95000000000005" y2="971.7" stroke="#ee4047" stroke-width="2.0" stroke-linecap="butt"/>
<circle cx="395.95000000000005" cy="965.7" r="4.3" fill="#ee4047"/>
<line x1="444.22" y1="958.8" x2="444.22" y2="969.9" stroke="#ee4047" stroke-width="2.0" stroke-linecap="butt"/>
<line x1="439.22" y1="958.8" x2="449.22" y2="958.8" stroke="#ee4047" stroke-width="2.0" stroke-linecap="butt"/>
<line x1="439.22" y1="969.9" x2="449.22" y2="969.9" stroke="#ee4047" stroke-width="2.0" stroke-linecap="butt"/>
<circle cx="444.22" cy="964.2" r="4.3" fill="#ee4047"/>
<line x1="177.4" y1="784" x2="177.4" y2="1005" stroke="#000" stroke-width="2" stroke-linecap="butt" stroke-dasharray="3.3 3.4"/>
<line x1="137.5" y1="767.5" x2="171.3" y2="767.5" stroke="#0606e2" stroke-width="2.2" stroke-linecap="butt"/>
<rect x="150.4" y="763.6" width="7.8" height="7.8" fill="#0606e2"/>
<text x="176" y="773.9" font-size="21" font-weight="bold" text-anchor="start">amplitude</text>
<line x1="330.4" y1="767.4" x2="335.0" y2="767.4" stroke="#a82238" stroke-width="2.2" stroke-linecap="butt"/>
<line x1="338.4" y1="767.4" x2="342.8" y2="767.4" stroke="#a82238" stroke-width="2.2" stroke-linecap="butt"/>
<line x1="352.6" y1="767.4" x2="357.2" y2="767.4" stroke="#a82238" stroke-width="2.2" stroke-linecap="butt"/>
<line x1="360.4" y1="767.4" x2="365.4" y2="767.4" stroke="#a82238" stroke-width="2.2" stroke-linecap="butt"/>
<circle cx="347.8" cy="767.4" r="4.2" fill="#ee4047"/>
<text x="368.9" y="775.4" font-size="20.8" font-weight="bold" text-anchor="start" textLength="64.3" lengthAdjust="spacingAndGlyphs">Mesor</text>
</svg>
</body></html>
